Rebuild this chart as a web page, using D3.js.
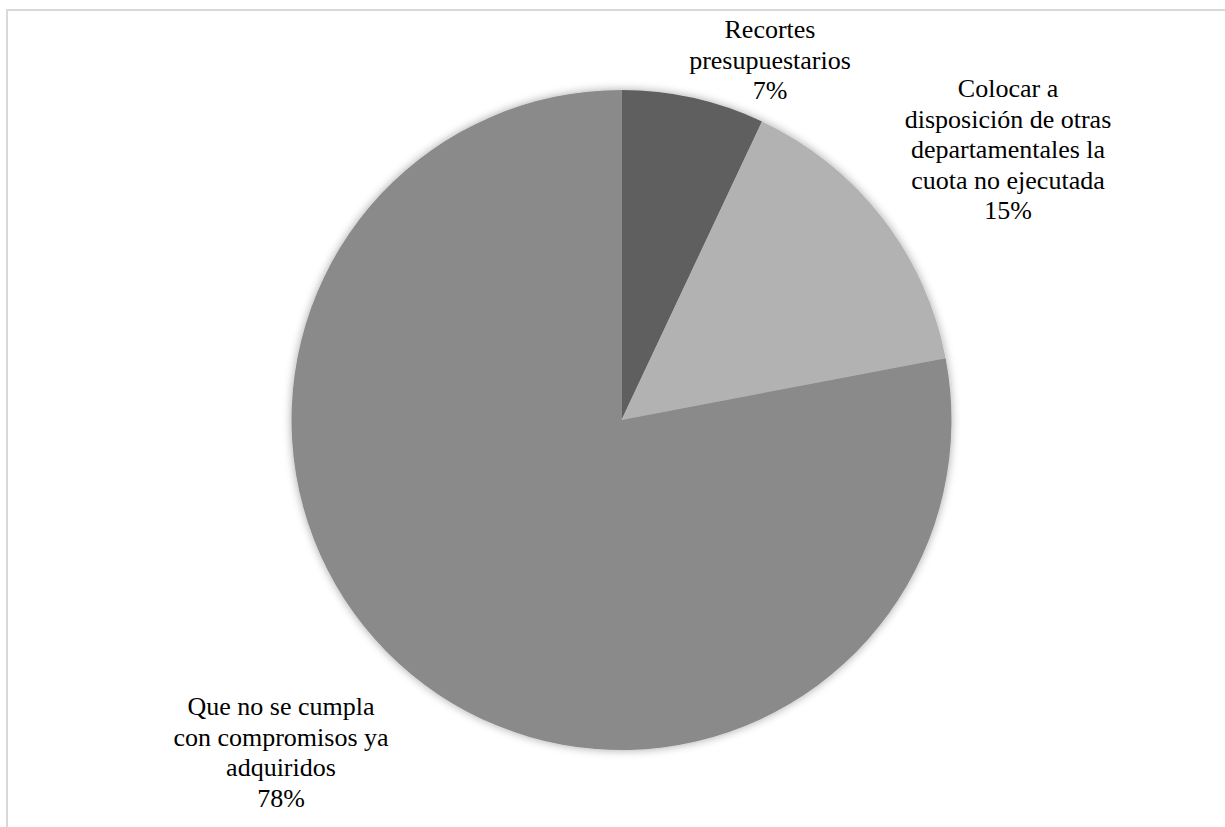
<!DOCTYPE html>
<html><head><meta charset="utf-8">
<script src="https://cdn.jsdelivr.net/npm/d3@7"></script>
<style>html,body{margin:0;padding:0;background:#fff;}svg{display:block;}
.lbl{font-family:"Liberation Serif","Tinos","Noto Serif","DejaVu Serif","Times New Roman","Times",serif;}</style>
</head><body>
<svg id="c" width="1225" height="827"></svg>
<script>
const categories = ["Recortes presupuestarios", "Colocar a disposición de otras departamentales la cuota no ejecutada", "Que no se cumpla con compromisos ya adquiridos"];
const values = [7, 15, 78];
const labelLines = [
  ["Recortes", "presupuestarios", "7%"],
  ["Colocar a", "disposición de otras", "departamentales la", "cuota no ejecutada", "15%"],
  ["Que no se cumpla", "con compromisos ya", "adquiridos", "78%"]
];
const colors = ["#5f5f5f", "#b2b2b2", "#8a8a8a"];

const svg = d3.select("#c");
svg.append("rect").attr("x", 7).attr("y", 10).attr("width", 1240).attr("height", 840)
  .attr("fill", "none").attr("stroke", "#d9d9d9").attr("stroke-width", 2);

const defs = svg.append("defs");
const f = defs.append("filter").attr("id", "sh").attr("x", "-20%").attr("y", "-20%").attr("width", "140%").attr("height", "140%");
f.append("feGaussianBlur").attr("in", "SourceAlpha").attr("stdDeviation", 5).attr("result", "b");
f.append("feOffset").attr("in", "b").attr("dx", 0).attr("dy", 0).attr("result", "o");
f.append("feComponentTransfer").attr("in", "o").attr("result", "o2")
  .append("feFuncA").attr("type", "linear").attr("slope", 0.35);
const m = f.append("feMerge");
m.append("feMergeNode").attr("in", "o2");
m.append("feMergeNode").attr("in", "SourceGraphic");

const cx = 621.5, cy = 420, r = 330;
const pie = d3.pie().sort(null).value(d => d)(values);
const arc = d3.arc().innerRadius(0).outerRadius(r);
const g = svg.append("g").attr("transform", `translate(${cx},${cy})`).attr("filter", "url(#sh)");
g.selectAll("path").data(pie).join("path")
  .attr("d", arc).attr("fill", (d, i) => colors[i]);

const labelPos = [[770, 38], [1008, 97], [281, 715]];
const lh = 30.5;
labelLines.forEach((lines, i) => {
  const t = svg.append("text").attr("class", "lbl").attr("text-anchor", "middle")
    .attr("font-size", 26).attr("fill", "#000");
  lines.forEach((s, j) => {
    t.append("tspan").attr("x", labelPos[i][0]).attr("y", labelPos[i][1] + j * lh).text(s);
  });
});
</script>
</body></html>
